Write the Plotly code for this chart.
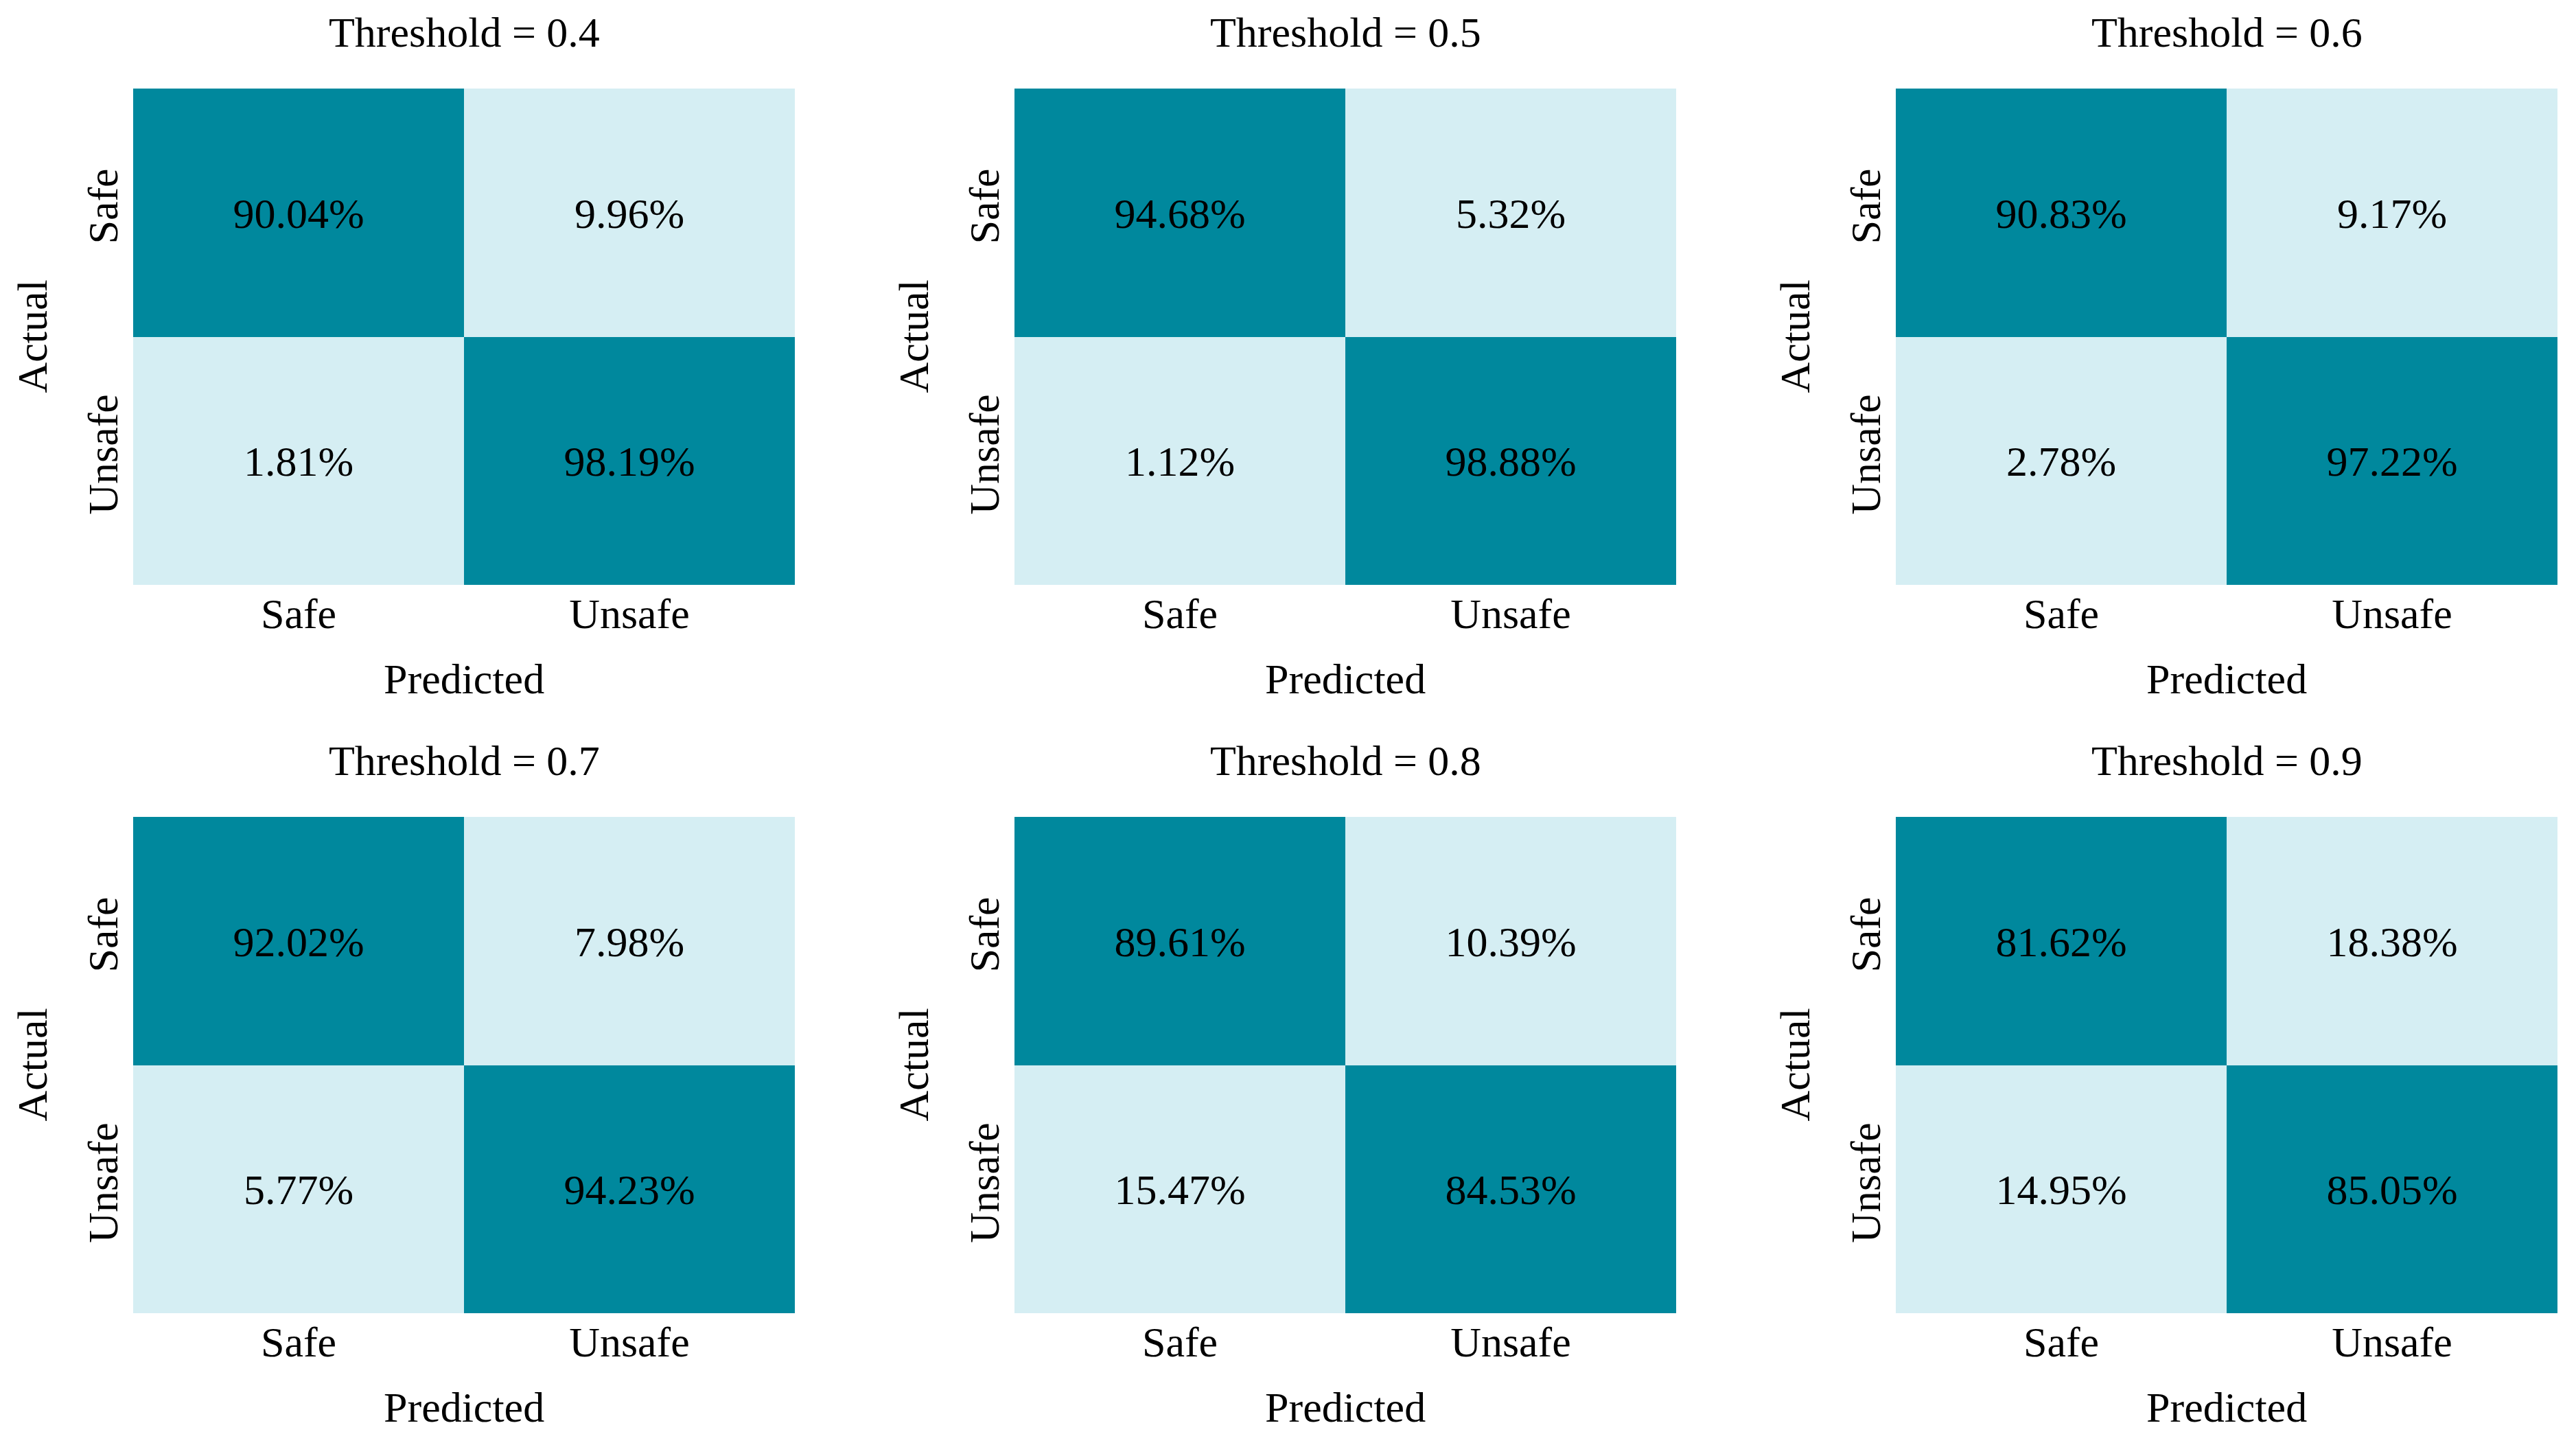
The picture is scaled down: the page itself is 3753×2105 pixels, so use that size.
import plotly.graph_objects as go

# ---- data ----
thresholds = ["0.4", "0.5", "0.6", "0.7", "0.8", "0.9"]
pred_labels = ["Safe", "Unsafe"]
actual_labels = ["Safe", "Unsafe"]
cm_04 = [[90.04, 9.96], [1.81, 98.19]]
cm_05 = [[94.68, 5.32], [1.12, 98.88]]
cm_06 = [[90.83, 9.17], [2.78, 97.22]]
cm_07 = [[92.02, 7.98], [5.77, 94.23]]
cm_08 = [[89.61, 10.39], [15.47, 84.53]]
cm_09 = [[81.62, 18.38], [14.95, 85.05]]
matrices = [cm_04, cm_05, cm_06, cm_07, cm_08, cm_09]

# ---- style ----
W, H = 3753, 2105
FONT = "Liberation Serif, Times New Roman, serif"
FS = 62
DARK = "#00889D"
LIGHT = "#D5EEF3"
colorscale = [[0, LIGHT], [0.5, LIGHT], [0.5, DARK], [1, DARK]]

col_left = [194, 1478, 2762]
panel_w = 964
row_top = [129, 1190]
panel_h = 723

fig = go.Figure()
annotations = []
for i, (thr, cm) in enumerate(zip(thresholds, matrices)):
    r, c = divmod(i, 3)
    k = "" if i == 0 else str(i + 1)
    x0 = col_left[c] / W
    x1 = (col_left[c] + panel_w) / W
    y1 = 1 - row_top[r] / H
    y0 = 1 - (row_top[r] + panel_h) / H
    text = [[f"{v:.2f}%" for v in row] for row in cm]
    fig.add_trace(go.Heatmap(
        z=cm, x=pred_labels, y=actual_labels, text=text,
        texttemplate="%{text}", textfont=dict(family=FONT, size=FS, color="black"),
        colorscale=colorscale, zmin=0, zmax=100, showscale=False,
        xaxis="x" + k, yaxis="y" + k, hoverinfo="skip", xgap=0, ygap=0,
    ))
    fig.layout["xaxis" + k] = dict(
        domain=[x0, x1], anchor="y" + k, showgrid=False, zeroline=False,
        showline=False, ticks="", tickfont=dict(family=FONT, size=FS, color="black"),
        ticklabelstandoff=0,
    )
    fig.layout["yaxis" + k] = dict(
        domain=[y0, y1], anchor="x" + k, showgrid=False, zeroline=False,
        showline=False, ticks="", autorange="reversed", tickangle=-90,
        tickfont=dict(family=FONT, size=FS, color="black"),
        ticklabelstandoff=10,
    )
    cx = (col_left[c] + panel_w / 2) / W
    # subplot title
    annotations.append(dict(
        text=f"Threshold = {thr}", xref="paper", yref="paper",
        x=cx, y=1 - (row_top[r] - 82) / H, xanchor="center", yanchor="middle",
        showarrow=False, font=dict(family=FONT, size=FS, color="black"),
    ))
    # x axis title
    annotations.append(dict(
        text="Predicted", xref="paper", yref="paper",
        x=cx, y=1 - (row_top[r] + panel_h + 137) / H, xanchor="center", yanchor="middle",
        showarrow=False, font=dict(family=FONT, size=FS, color="black"),
    ))
    # y axis title
    annotations.append(dict(
        text="Actual", xref="paper", yref="paper", textangle=-90,
        x=(col_left[c] - 147) / W, y=1 - (row_top[r] + panel_h / 2) / H,
        xanchor="center", yanchor="middle",
        showarrow=False, font=dict(family=FONT, size=FS, color="black"),
    ))

fig.update_layout(
    width=W, height=H, margin=dict(l=0, r=0, t=0, b=0),
    paper_bgcolor="white", plot_bgcolor="white",
    font=dict(family=FONT, size=FS, color="black"),
    annotations=annotations, showlegend=False,
)
fig.write_html(
    "out.html",
    config={"displayModeBar": False, "staticPlot": True},
    post_script="document.body.style.margin='0px';document.body.style.overflow='hidden';",
)
